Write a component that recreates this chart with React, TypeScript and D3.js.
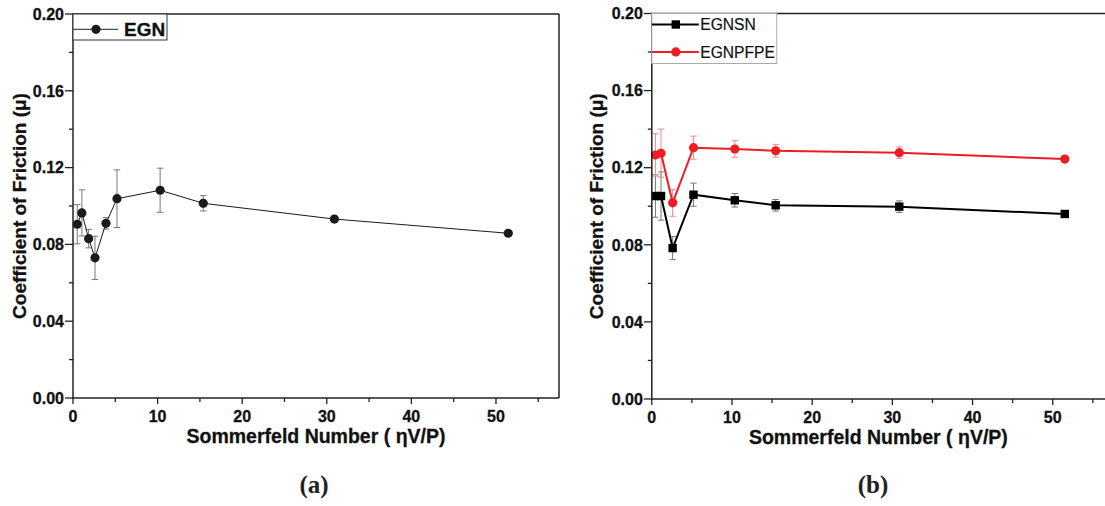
import React from "react";
import * as d3 from "d3";

// ---- Data ----
const sommerfeldA = [0.5, 1.05, 1.85, 2.6, 3.9, 5.2, 10.3, 15.4, 30.9, 51.45];
const egn = [0.0905, 0.0964, 0.083, 0.073, 0.091, 0.1038, 0.1082, 0.1014, 0.0932, 0.0858];
const egnErr = [0.0102, 0.012, 0.0048, 0.0113, 0.003, 0.015, 0.0115, 0.004, 0, 0];

const sommerfeldB = [0.45, 1.15, 2.6, 5.2, 10.35, 15.45, 30.86, 51.5];
const egnsn = [0.1053, 0.1053, 0.0783, 0.106, 0.1031, 0.1005, 0.0998, 0.096];
const egnsnErr = [0.011, 0.0125, 0.006, 0.006, 0.0035, 0.003, 0.003, 0];
const egnpfpe = [0.1266, 0.1275, 0.1018, 0.1304, 0.1297, 0.1288, 0.1278, 0.1245];
const egnpfpeErr = [0.011, 0.0125, 0.007, 0.006, 0.0043, 0.0033, 0.003, 0];

const xMajorTicks = [0, 10, 20, 30, 40, 50];
const xMinorTicks = [5, 15, 25, 35, 45, 55];
const yMajorTicks = [0, 0.04, 0.08, 0.12, 0.16, 0.2];
const yMinorTicks = [0.02, 0.06, 0.1, 0.14, 0.18];

const FONT = "'Liberation Sans', Arial, Helvetica, sans-serif";

type Series = {
  name: string;
  xs: number[];
  ys: number[];
  errs: number[];
  color: string;
  errColor: string;
  lineWidth: number;
  marker: "circle" | "square";
};

function Panel({
  x0, x1, y0, y1, series, frameRight, titleX, legend, label, labelX,
}: {
  x0: number; x1: number; y0: number; y1: number;
  series: Series[]; frameRight: boolean; titleX: number;
  legend: "a" | "b"; label: string; labelX: number;
}) {
  const x = d3.scaleLinear().domain([0, 57.45]).range([x0, x1]);
  const y = d3.scaleLinear().domain([0, 0.2]).range([y0, y1]);
  const cx = (x0 + Math.min(x1, 1105)) / 2;
  const plotCx = frameRight ? (x0 + x1) / 2 : cx;
  return (
    <g>
      {series.map((s) => {
        const pts = s.xs.map((v, i) => [x(v), y(s.ys[i])] as [number, number]);
        const line = d3.line()(pts) || "";
        return (
          <g key={s.name}>
            {s.xs.map((v, i) =>
              s.errs[i] > 0 ? (
                <g key={i} stroke={s.errColor} strokeWidth={1}>
                  <line x1={x(v)} x2={x(v)} y1={y(s.ys[i] - s.errs[i])} y2={y(s.ys[i] + s.errs[i])} />
                  <line x1={x(v) - 3.2} x2={x(v) + 3.2} y1={y(s.ys[i] + s.errs[i])} y2={y(s.ys[i] + s.errs[i])} />
                  <line x1={x(v) - 3.2} x2={x(v) + 3.2} y1={y(s.ys[i] - s.errs[i])} y2={y(s.ys[i] - s.errs[i])} />
                </g>
              ) : null
            )}
            <path d={line} fill="none" stroke={s.color} strokeWidth={s.lineWidth} />
            {pts.map((p, i) =>
              s.marker === "circle" ? (
                <circle key={i} cx={p[0]} cy={p[1]} r={4.6} fill={s.color} />
              ) : (
                <rect key={i} x={p[0] - 4.2} y={p[1] - 4.2} width={8.4} height={8.4} fill={s.color} />
              )
            )}
          </g>
        );
      })}
      <g stroke="#222" strokeWidth={1.5} fill="none">
        <line x1={x0} x2={x0} y1={y1} y2={y0 + 0.75} />
        <line x1={x0 - 0.75} x2={x1} y1={y0} y2={y0} />
        <line x1={x0 - 0.75} x2={x1} y1={y1} y2={y1} />
        {frameRight && <line x1={x1} x2={x1} y1={y1} y2={y0} />}
      </g>
      <g stroke="#222" strokeWidth={1.3}>
        {yMajorTicks.map((t) => (
          <line key={"ym" + t} x1={x0 - 8} x2={x0} y1={y(t)} y2={y(t)} />
        ))}
        {yMinorTicks.map((t) => (
          <line key={"yn" + t} x1={x0 - 4} x2={x0} y1={y(t)} y2={y(t)} />
        ))}
        {xMajorTicks.map((t) => (
          <line key={"xm" + t} x1={x(t)} x2={x(t)} y1={y0} y2={y0 + 6} />
        ))}
        {xMinorTicks.map((t) => (
          <line key={"xn" + t} x1={x(t)} x2={x(t)} y1={y0} y2={y0 + 4} />
        ))}
      </g>
      <g fontFamily={FONT} fontWeight="bold" fontSize={16} fill="#111" stroke="#111" strokeWidth={0.3}>
        {yMajorTicks.map((t) => (
          <text key={"yl" + t} x={x0 - 9} y={y(t)} dy="0.36em" textAnchor="end">
            {d3.format(".2f")(t)}
          </text>
        ))}
        {xMajorTicks.map((t) => (
          <text key={"xl" + t} x={x(t)} y={y0 + 24} textAnchor="middle">
            {t}
          </text>
        ))}
      </g>
      <text
        fontFamily={FONT} fontWeight="bold" fontSize={19.5} fill="#111" stroke="#111" strokeWidth={0.3}
        x={plotCx} y={y0 + 45} textAnchor="middle"
      >
        Sommerfeld Number ( ηV/P)
      </text>
      <text
        fontFamily={FONT} fontWeight="bold" fontSize={19} fill="#111" stroke="#111" strokeWidth={0.3}
        transform={`translate(${titleX},${(y0 + y1) / 2}) rotate(-90)`} textAnchor="middle"
      >
        Coefficient of Friction (μ)
      </text>
      {legend === "a" ? (
        <g>
          <rect x={x0} y={y1} width={94} height={26} fill="white" stroke="#333" strokeWidth={1} />
          <line x1={x0} x2={x0 + 45} y1={y1 + 15.3} y2={y1 + 15.3} stroke="#222" strokeWidth={1} />
          <circle cx={x0 + 23} cy={y1 + 15.3} r={4.6} fill="#1a1a1a" />
          <text x={x0 + 51} y={y1 + 22} fontFamily={FONT} fontWeight="bold" fontSize={19} fill="#111" stroke="#111" strokeWidth={0.3}>
            EGN
          </text>
        </g>
      ) : (
        <g>
          <rect x={x0} y={y1} width={125} height={50} fill="white" stroke="#aaa" strokeWidth={1} />
          {series.map((s, i) => {
            const ly = y1 + 11 + i * 27.4;
            return (
              <g key={s.name}>
                <line x1={x0} x2={x0 + 47} y1={ly} y2={ly} stroke={s.color} strokeWidth={2} />
                {s.marker === "circle" ? (
                  <circle cx={x0 + 24} cy={ly} r={4.6} fill={s.color} />
                ) : (
                  <rect x={x0 + 24 - 4.2} y={ly - 4.2} width={8.4} height={8.4} fill={s.color} />
                )}
                <text x={x0 + 48.5} y={ly + 5.6} fontFamily={FONT} fontSize={15.6} fill="#111" stroke="#111" strokeWidth={0.2}>
                  {s.name}
                </text>
              </g>
            );
          })}
        </g>
      )}
      <text
        x={labelX} y={493} textAnchor="middle"
        fontFamily="'Liberation Serif', 'Times New Roman', Times, serif" fontWeight="bold" fontSize={25} fill="#222"
      >
        {label}
      </text>
    </g>
  );
}

export default function App() {
  const seriesA: Series[] = [
    {
      name: "EGN", xs: sommerfeldA, ys: egn, errs: egnErr,
      color: "#1a1a1a", errColor: "#777", lineWidth: 1, marker: "circle",
    },
  ];
  const seriesB: Series[] = [
    {
      name: "EGNSN", xs: sommerfeldB, ys: egnsn, errs: egnsnErr,
      color: "#000", errColor: "#777", lineWidth: 2, marker: "square",
    },
    {
      name: "EGNPFPE", xs: sommerfeldB, ys: egnpfpe, errs: egnpfpeErr,
      color: "#ee1c24", errColor: "#f08a8a", lineWidth: 2, marker: "circle",
    },
  ];
  return (
    <svg
      width={1105} height={506}
      style={{ position: "absolute", left: 0, top: 0, background: "white" }}
    >
      <rect width={1105} height={506} fill="white" />
      <Panel x0={73} x1={559} y0={398} y1={14} series={seriesA} frameRight={true}
        titleX={26} legend="a" label="(a)" labelX={314} />
      <Panel x0={651.8} x1={1112.5} y0={399} y1={13.5} series={seriesB} frameRight={false}
        titleX={603} legend="b" label="(b)" labelX={873} />
    </svg>
  );
}
